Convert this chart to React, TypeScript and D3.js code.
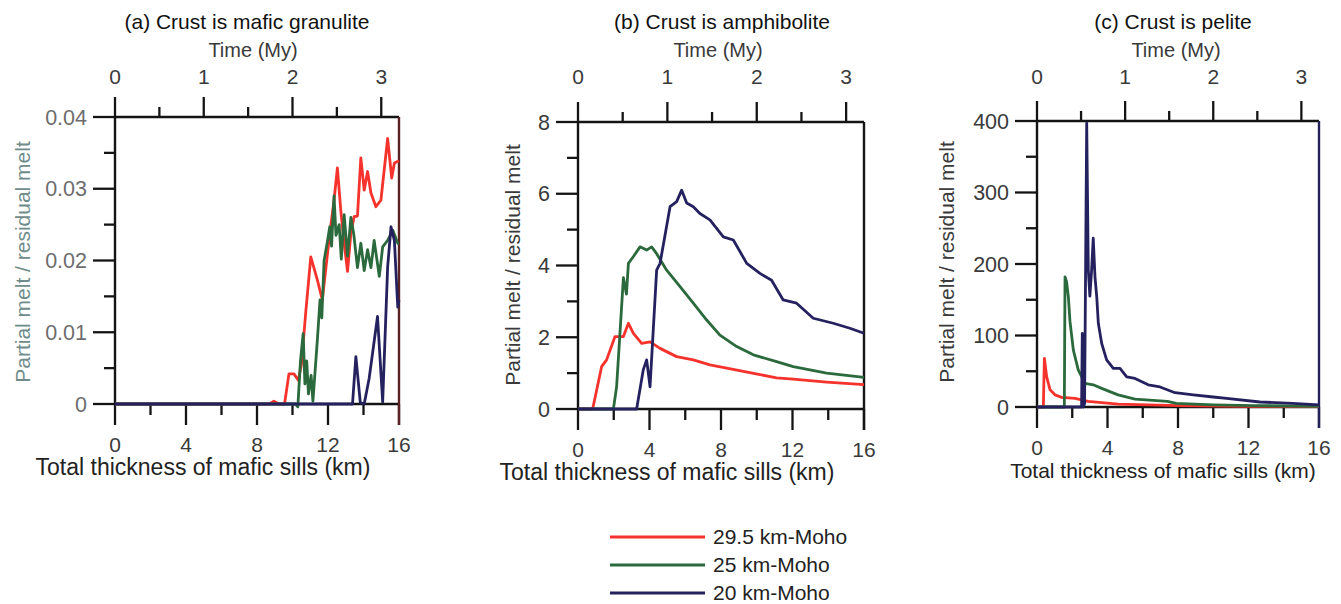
import React from "react";
import * as d3 from "d3";

type Pt = [number, number];

const FONT = "'Liberation Sans', Arial, Helvetica, sans-serif";

// Axis ticks
const thicknessMajor = [0, 4, 8, 12, 16];
const thicknessMinor = [2, 6, 10, 14];
const timeMajor = [0, 1, 2, 3];
const timeMinor = [0.5, 1.5, 2.5];
const thicknessDomain: Pt = [0, 16];
const timeDomain: Pt = [0, 3.2];

// Legend
const seriesNames = ["29.5 km-Moho", "25 km-Moho", "20 km-Moho"];
const seriesColors = ["#f5332c", "#2b6a3c", "#25215f"];

// Panel titles
const panelTitles = [
  "(a) Crust is mafic granulite",
  "(b) Crust is amphibolite",
  "(c) Crust is pelite",
];

// y axes
const aYMajor = [0, 0.01, 0.02, 0.03, 0.04];
const aYMinor = [0.005, 0.015, 0.025, 0.035];
const bYMajor = [0, 2, 4, 6, 8];
const bYMinor = [1, 3, 5, 7];
const cYMajor = [0, 100, 200, 300, 400];
const cYMinor = [50, 150, 250, 350];

// (a) mafic granulite  [km, ratio]
const aRed: Pt[] = [
  [0, 0], [8.7, 0], [8.95, 0.0004], [9.25, 0], [9.55, 0], [9.8, 0.0042], [10.08, 0.0042],
  [10.33, 0.0033], [10.5, 0.0055], [10.74, 0.0126], [11.03, 0.0205], [11.4, 0.0173],
  [11.68, 0.0145], [12.06, 0.0229], [12.34, 0.0284], [12.53, 0.0329], [12.72, 0.027],
  [12.91, 0.0224], [13.1, 0.0185], [13.29, 0.0238], [13.47, 0.0261], [13.66, 0.0262],
  [13.85, 0.0343], [14.04, 0.0298], [14.23, 0.0324], [14.42, 0.0294], [14.7, 0.0275],
  [14.98, 0.0284], [15.36, 0.037], [15.59, 0.0315], [15.74, 0.0336], [16, 0.0339],
];
const aGreen: Pt[] = [
  [0, 0], [10.15, 0], [10.3, -0.0004], [10.45, 0.006], [10.6, 0.0098], [10.7, 0.0028],
  [10.8, 0.006], [10.9, 0.0014], [11.05, 0.004], [11.15, 0.0004], [11.4, 0.0089],
  [11.55, 0.0145], [11.65, 0.012], [11.78, 0.02], [11.97, 0.0227], [12.1, 0.0247],
  [12.2, 0.022], [12.34, 0.029], [12.45, 0.0235], [12.63, 0.025], [12.75, 0.0202],
  [12.91, 0.0264], [13.1, 0.0206], [13.29, 0.026], [13.45, 0.0237], [13.66, 0.019],
  [13.85, 0.0224], [14.04, 0.0186], [14.23, 0.0215], [14.42, 0.019], [14.6, 0.0228],
  [14.89, 0.0178], [15.08, 0.0219], [15.36, 0.0228], [15.65, 0.0242], [15.93, 0.0224],
  [16, 0.0224],
];
const aNavy: Pt[] = [
  [0, 0], [13.38, 0], [13.57, 0.0066], [13.82, 0.0002], [14.04, 0], [14.32, 0.0036],
  [14.79, 0.0122], [15.08, 0.0003], [15.36, 0.0191], [15.55, 0.0247], [15.74, 0.0228],
  [15.93, 0.0135], [16, 0.0145],
];

// (b) amphibolite
const bRed: Pt[] = [
  [0, 0], [0.82, 0], [1.32, 1.18], [1.6, 1.37], [2.07, 2.02], [2.54, 2.02], [2.82, 2.39],
  [3.1, 2.11], [3.56, 1.83], [4.03, 1.87], [4.59, 1.69], [5.52, 1.46], [6.45, 1.37],
  [7.38, 1.23], [8.32, 1.14], [9.25, 1.05], [10.18, 0.96], [11.11, 0.87], [12.04, 0.83],
  [13.91, 0.75], [16, 0.68],
];
const bGreen: Pt[] = [
  [0, 0], [1.98, 0], [2.16, 0.62], [2.44, 2.85], [2.54, 3.66], [2.71, 3.2], [2.82, 4.06],
  [3.1, 4.25], [3.47, 4.52], [3.84, 4.43], [4.12, 4.52], [4.4, 4.33], [4.96, 3.87],
  [5.71, 3.41], [6.45, 2.95], [7.2, 2.48], [7.94, 2.06], [8.88, 1.74], [9.81, 1.51],
  [11.11, 1.32], [12.04, 1.18], [13.91, 1.0], [16, 0.88],
];
const bNavy: Pt[] = [
  [0, 0], [3.28, 0], [3.65, 1.09], [3.84, 1.37], [4.03, 0.62], [4.4, 3.87], [4.59, 4.06],
  [5.15, 5.64], [5.52, 5.78], [5.8, 6.1], [6.08, 5.74], [6.45, 5.64], [6.82, 5.45],
  [7.38, 5.27], [8.13, 4.8], [8.69, 4.71], [9.44, 4.06], [10.18, 3.78], [10.83, 3.59],
  [11.48, 3.04], [12.23, 2.95], [13.16, 2.53], [14.28, 2.39], [15.21, 2.25], [16, 2.11],
];

// (c) pelite
const cRed: Pt[] = [
  [0, 0], [0.36, 0], [0.42, 68], [0.55, 42], [0.74, 24], [1.02, 17], [1.4, 13.5],
  [2.16, 12], [2.9, 8], [4.6, 4], [8, 2], [12, 1], [16, 0.5],
];
const cGreen: Pt[] = [
  [0, 0], [1.55, 0], [1.59, 182], [1.68, 175], [1.78, 154], [1.87, 120], [2.06, 80],
  [2.34, 52], [2.72, 33], [3.19, 31], [3.67, 26], [4.6, 17], [5.56, 11], [7.4, 8],
  [7.9, 5], [10, 3], [12.3, 2], [16, 1],
];
const cNavy: Pt[] = [
  [0, 0], [2.53, 0], [2.57, 103], [2.63, 0], [2.7, 5], [2.82, 397], [2.91, 192],
  [3.0, 155], [3.1, 192], [3.19, 236], [3.29, 182], [3.39, 154], [3.48, 117], [3.67, 89],
  [3.95, 66], [4.33, 54], [4.71, 54], [5.09, 42], [5.56, 40], [6.31, 31], [6.98, 28],
  [7.83, 20], [8.87, 17], [10.0, 14], [10.76, 12], [12.65, 7], [14.5, 5], [16, 3],
];

type PanelCfg = {
  title: string;
  box: { x0: number; x1: number; y0: number; y1: number };
  yDomain: Pt;
  yMajor: number[];
  yMinor: number[];
  yFormat: (v: number) => string;
  series: Pt[][];
  titleX: number;
  timeTitleX: number;
  yTitleX: number;
  yTitleY: number;
  xTitleX: number;
  xTitleSize: number;
  yLabelColor: string;
  yTitleColor: string;
  rightColor: string;
};

const panels: PanelCfg[] = [
  {
    title: panelTitles[0],
    box: { x0: 115, x1: 399, y0: 117, y1: 404 },
    yDomain: [0, 0.04], yMajor: aYMajor, yMinor: aYMinor,
    yFormat: (v) => (v === 0 ? "0" : d3.format(".2f")(v)),
    series: [aRed, aGreen, aNavy],
    titleX: 247, timeTitleX: 253, yTitleX: 23, yTitleY: 262, xTitleX: 203, xTitleSize: 23,
    yLabelColor: "#6d6d6d", yTitleColor: "#6f8c8a", rightColor: "#5a2222",
  },
  {
    title: panelTitles[1],
    box: { x0: 578, x1: 864, y0: 122, y1: 409 },
    yDomain: [0, 8], yMajor: bYMajor, yMinor: bYMinor,
    yFormat: (v) => String(v),
    series: [bRed, bGreen, bNavy],
    titleX: 722, timeTitleX: 718, yTitleX: 513, yTitleY: 265, xTitleX: 667, xTitleSize: 23,
    yLabelColor: "#3a3a3a", yTitleColor: "#3a3a3a", rightColor: "#151515",
  },
  {
    title: panelTitles[2],
    box: { x0: 1037, x1: 1319, y0: 121, y1: 407 },
    yDomain: [0, 400], yMajor: cYMajor, yMinor: cYMinor,
    yFormat: (v) => String(v),
    series: [cRed, cGreen, cNavy],
    titleX: 1173, timeTitleX: 1176, yTitleX: 947, yTitleY: 262, xTitleX: 1163, xTitleSize: 21,
    yLabelColor: "#3a3a3a", yTitleColor: "#3a3a3a", rightColor: "#23205a",
  },
];

const AX = "#141414";

function Panel({ cfg }: { cfg: PanelCfg }) {
  const { box } = cfg;
  const x = d3.scaleLinear().domain(thicknessDomain).range([box.x0, box.x1]);
  const t = d3.scaleLinear().domain(timeDomain).range([box.x0, box.x1]);
  const y = d3.scaleLinear().domain(cfg.yDomain).range([box.y1, box.y0]);
  const line = d3.line<Pt>().x((d) => x(d[0])).y((d) => y(d[1]));
  const sw = 2.3;
  return (
    <g>
      <text x={cfg.titleX} y={29} textAnchor="middle" fontSize={21} fill="#111">{cfg.title}</text>
      <text x={cfg.timeTitleX} y={57} textAnchor="middle" fontSize={20} fill="#3a3a3a">Time (My)</text>
      {/* top time axis */}
      {timeMajor.map((v) => (
        <g key={"tm" + v}>
          <line x1={t(v)} x2={t(v)} y1={box.y0 - 20} y2={box.y0} stroke={AX} strokeWidth={sw} />
          <text x={t(v)} y={84} textAnchor="middle" fontSize={21} fill="#3a3a3a">{v}</text>
        </g>
      ))}
      {timeMinor.map((v) => (
        <line key={"tn" + v} x1={t(v)} x2={t(v)} y1={box.y0 - 10} y2={box.y0} stroke={AX} strokeWidth={sw} />
      ))}
      {/* bottom thickness axis */}
      {thicknessMajor.map((v) => (
        <g key={"xm" + v}>
          <line x1={x(v)} x2={x(v)} y1={box.y1} y2={box.y1 + 21} stroke={AX} strokeWidth={sw} />
          <text x={x(v)} y={box.y1 + 48} textAnchor="middle" fontSize={21} fill="#3a3a3a">{v}</text>
        </g>
      ))}
      {thicknessMinor.map((v) => (
        <line key={"xn" + v} x1={x(v)} x2={x(v)} y1={box.y1} y2={box.y1 + 11} stroke={AX} strokeWidth={sw} />
      ))}
      <text x={cfg.xTitleX} y={box.y1 + 71} textAnchor="middle" fontSize={cfg.xTitleSize} fill="#222">
        Total thickness of mafic sills (km)
      </text>
      {/* left y axis */}
      {cfg.yMajor.map((v) => (
        <g key={"ym" + v}>
          <line x1={box.x0 - 22} x2={box.x0} y1={y(v)} y2={y(v)} stroke={AX} strokeWidth={sw} />
          <text x={box.x0 - 28} y={y(v)} dy="0.35em" textAnchor="end" fontSize={21.5} fill={cfg.yLabelColor}>
            {cfg.yFormat(v)}
          </text>
        </g>
      ))}
      {cfg.yMinor.map((v) => (
        <line key={"yn" + v} x1={box.x0 - 11} x2={box.x0} y1={y(v)} y2={y(v)} stroke={AX} strokeWidth={sw} />
      ))}
      <text
        transform={`translate(${cfg.yTitleX},${cfg.yTitleY}) rotate(-90)`}
        dy="0.35em" textAnchor="middle" fontSize={21} fill={cfg.yTitleColor}
      >
        Partial melt / residual melt
      </text>
      {/* frame */}
      <line x1={box.x0} x2={box.x1} y1={box.y0} y2={box.y0} stroke={AX} strokeWidth={2.4} />
      <line x1={box.x0} x2={box.x1} y1={box.y1} y2={box.y1} stroke={AX} strokeWidth={2.4} />
      <line x1={box.x0} x2={box.x0} y1={box.y0} y2={box.y1} stroke={AX} strokeWidth={2.4} />
      <line x1={box.x1} x2={box.x1} y1={box.y0} y2={box.y1 + 21} stroke={cfg.rightColor} strokeWidth={2.4} />
      {/* data */}
      {cfg.series.map((s, i) => (
        <path key={"s" + i} d={line(s) || ""} fill="none" stroke={seriesColors[i]} strokeWidth={2.8} strokeLinejoin="round" />
      ))}
    </g>
  );
}

function Legend() {
  const x0 = 610, x1 = 705;
  const ys = [537, 565, 593];
  return (
    <g>
      {seriesNames.map((n, i) => (
        <g key={n}>
          <line x1={x0} x2={x1} y1={ys[i]} y2={ys[i]} stroke={seriesColors[i]} strokeWidth={2.8} />
          <text x={713} y={ys[i]} dy="0.35em" fontSize={21} fill="#222">{n}</text>
        </g>
      ))}
    </g>
  );
}

export default function App() {
  return (
    <svg
      width={1341}
      height={604}
      style={{ position: "absolute", left: 0, top: 0, background: "#fff" }}
      fontFamily={FONT}
    >
      <rect width={1341} height={604} fill="#fff" />
      {panels.map((p, i) => (
        <Panel key={i} cfg={p} />
      ))}
      <Legend />
    </svg>
  );
}
